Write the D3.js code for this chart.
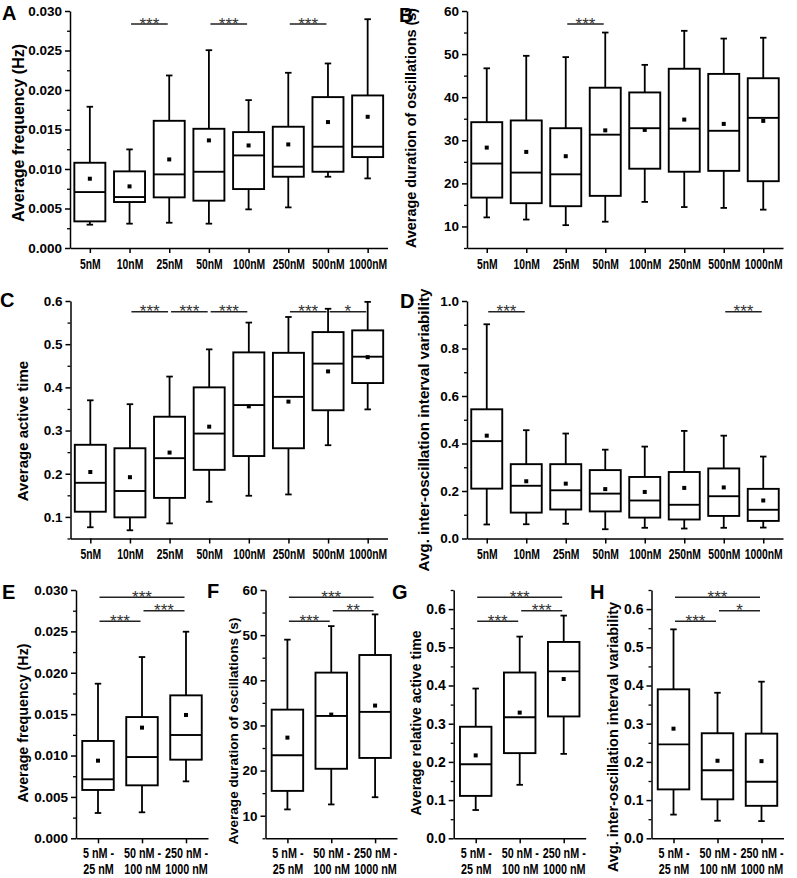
<!DOCTYPE html>
<html><head><meta charset="utf-8">
<script src="https://cdn.jsdelivr.net/npm/d3@7"></script>
<style>
html,body{margin:0;padding:0;background:#fff;}
svg text{font-family:"Liberation Sans",Arial,sans-serif;}
</style></head>
<body>
<svg id="fig" width="797" height="878"></svg>
<script>
// ---------- categories / tick labels ----------
const concCats = ["5nM","10nM","25nM","50nM","100nM","250nM","500nM","1000nM"];
const groupCats = ["g1","g2","g3"];
const groupLabels = [["5 nM -","25 nM"],["50 nM -","100 nM"],["250 nM -","1000 nM"]];

// ---------- box stats: [low whisker, Q1, median, Q3, high whisker, mean] ----------
const freqConc = [
  [0.00295,0.00337,0.00708,0.01079,0.01788,0.00877],
  [0.00308,0.00582,0.00645,0.00970,0.01248,0.00780],
  [0.00320,0.00641,0.00932,0.01610,0.02184,0.01121],
  [0.00308,0.00599,0.00965,0.01509,0.02504,0.01362],
  [0.00489,0.00746,0.01172,0.01467,0.01872,0.01298],
  [0.00514,0.00902,0.01029,0.01535,0.02218,0.01311],
  [0.00902,0.00965,0.01282,0.01910,0.02336,0.01594],
  [0.00881,0.01151,0.01282,0.01931,0.02896,0.01661]];
const durConc = [
  [12.1,16.7,24.6,34.2,46.7,28.3],
  [11.6,15.4,22.5,34.6,49.6,27.3],
  [10.3,14.7,22.1,32.8,49.3,26.3],
  [11.1,17.1,31.3,42.2,55.0,32.3],
  [15.7,23.4,32.8,41.1,47.5,32.4],
  [14.5,22.7,32.7,46.6,55.4,34.8],
  [14.3,22.9,32.2,45.4,53.6,33.8],
  [13.9,20.5,35.2,44.4,53.8,34.5]];
const activeConc = [
  [0.076,0.112,0.179,0.267,0.370,0.204],
  [0.069,0.099,0.160,0.259,0.361,0.192],
  [0.085,0.144,0.236,0.332,0.425,0.249],
  [0.135,0.209,0.293,0.400,0.488,0.309],
  [0.149,0.241,0.359,0.481,0.550,0.356],
  [0.152,0.259,0.378,0.480,0.563,0.367],
  [0.266,0.347,0.455,0.528,0.582,0.437],
  [0.349,0.410,0.471,0.532,0.598,0.470]];
const varConc = [
  [0.059,0.210,0.410,0.544,0.902,0.433],
  [0.060,0.109,0.222,0.313,0.456,0.241],
  [0.062,0.122,0.203,0.313,0.442,0.231],
  [0.039,0.114,0.189,0.288,0.374,0.208],
  [0.045,0.088,0.160,0.259,0.387,0.196],
  [0.042,0.080,0.142,0.280,0.453,0.213],
  [0.045,0.095,0.178,0.295,0.433,0.215],
  [0.046,0.074,0.121,0.209,0.345,0.160]];
const freqGroup = [
  [0.00306,0.00584,0.00713,0.01176,0.01868,0.00938],
  [0.00314,0.00640,0.00982,0.01465,0.02190,0.01337],
  [0.00688,0.00950,0.01248,0.01727,0.02496,0.01490]];
const durGroup = [
  [11.4,15.5,23.4,33.5,49.0,27.3],
  [12.5,20.4,32.1,41.7,52.0,32.4],
  [14.1,22.8,33.0,45.6,54.6,34.4]];
const activeGroup = [
  [0.074,0.111,0.194,0.292,0.392,0.217],
  [0.140,0.223,0.317,0.434,0.528,0.329],
  [0.221,0.319,0.437,0.514,0.583,0.417]];
const varGroup = [
  [0.062,0.128,0.246,0.390,0.547,0.287],
  [0.046,0.102,0.178,0.275,0.381,0.203],
  [0.045,0.085,0.148,0.274,0.410,0.202]];

// ---------- significance: [from, to, label, level] ----------
const sigA = [["10nM","25nM","***",0],["50nM","100nM","***",0],["250nM","500nM","***",0]];
const sigB = [["25nM","50nM","***",0]];
const sigC = [["10nM","25nM","***",0],["25nM","50nM","***",0],["50nM","100nM","***",0],["250nM","500nM","***",0],["500nM","1000nM","*",0]];
const sigD = [["5nM","10nM","***",0],["500nM","1000nM","***",0]];
const sigE = [["g1","g3","***",0],["g2","g3","***",1],["g1","g2","***",2]];
const sigF = [["g1","g3","***",0],["g2","g3","**",1],["g1","g2","***",2]];
const sigG = [["g1","g3","***",0],["g2","g3","***",1],["g1","g2","***",2]];
const sigH = [["g1","g3","***",0],["g2","g3","*",1],["g1","g2","***",2]];

// ---------- titles ----------
const titleFreq = "Average frequency (Hz)";
const titleDur = "Average duration of oscillations (s)";
const titleActive = "Average active time";
const titleRelActive = "Average relative active time";
const titleVar = "Avg. inter-oscillation interval variability";

const svg = d3.select("#fig");

function panel(o){
  const g = svg.append("g");
  const x = d3.scalePoint().domain(o.cats).range([o.x0,o.x1]).padding(0.5);
  const y = d3.scaleLinear().domain(o.dom).range([o.yb,o.yt]);
  const majors = d3.range(o.tStart, o.dom[1]+1e-9, o.tStep);
  const minors = d3.range(o.dom[0], o.dom[1]+1e-9, o.tStep/2).filter(v=>!majors.some(m=>Math.abs(m-v)<1e-9));

  const minAx = g.append("g").attr("transform",`translate(${o.x0},0)`)
    .call(d3.axisLeft(y).tickValues(minors).tickSize(3).tickSizeOuter(0).tickFormat(""));
  minAx.select(".domain").remove();
  minAx.selectAll("line").attr("stroke","#000").attr("stroke-width",1.3);
  const yAx = g.append("g").attr("transform",`translate(${o.x0},0)`)
    .call(d3.axisLeft(y).tickValues(majors).tickSize(5).tickSizeOuter(0).tickPadding(3).tickFormat(d3.format(o.fmt)));
  yAx.select(".domain").attr("stroke","#000").attr("stroke-width",1.5);
  yAx.selectAll("line").attr("stroke","#000").attr("stroke-width",1.5);
  yAx.selectAll("text").attr("fill","#000").attr("font-size",o.tfs).attr("font-weight","bold")
     .style("font-family","'Liberation Sans',Arial,sans-serif");

  const xAx = g.append("g").attr("transform",`translate(0,${o.yb})`)
    .call(d3.axisBottom(x).tickSize(5).tickSizeOuter(0).tickPadding(o.lines?5:6));
  xAx.select(".domain").attr("stroke","#000").attr("stroke-width",1.5);
  xAx.selectAll("line").attr("stroke","#000").attr("stroke-width",1.5);
  const xt = xAx.selectAll("text").attr("fill","#000").attr("font-weight","bold")
     .attr("font-size",o.xfs).attr("transform",`scale(${o.xsc},1)`)
     .style("font-family","'Liberation Sans',Arial,sans-serif");
  if(o.lines){
    xt.each(function(d,i){
      const t = d3.select(this); t.text(null);
      o.lines[i].forEach((s,k)=>t.append("tspan").attr("x",0).attr("dy",k===0?"0.71em":"1.1em").text(s));
    }).attr("dy",null);
  }

  const bw = o.bw, cw = 6.5;
  const b = g.append("g").selectAll("g").data(o.data).join("g")
    .attr("transform",(d,i)=>`translate(${x(o.cats[i])},0)`);
  b.append("line").attr("x1",0).attr("x2",0).attr("y1",d=>y(d[4])).attr("y2",d=>y(d[3])).attr("stroke","#000").attr("stroke-width",1.8);
  b.append("line").attr("x1",0).attr("x2",0).attr("y1",d=>y(d[1])).attr("y2",d=>y(d[0])).attr("stroke","#000").attr("stroke-width",1.8);
  b.append("line").attr("x1",-cw/2).attr("x2",cw/2).attr("y1",d=>y(d[4])).attr("y2",d=>y(d[4])).attr("stroke","#000").attr("stroke-width",1.8);
  b.append("line").attr("x1",-cw/2).attr("x2",cw/2).attr("y1",d=>y(d[0])).attr("y2",d=>y(d[0])).attr("stroke","#000").attr("stroke-width",1.8);
  b.append("rect").attr("x",-bw/2).attr("width",bw).attr("y",d=>y(d[3])).attr("height",d=>y(d[1])-y(d[3]))
    .attr("fill","#fff").attr("stroke","#000").attr("stroke-width",1.9);
  b.append("line").attr("x1",-bw/2).attr("x2",bw/2).attr("y1",d=>y(d[2])).attr("y2",d=>y(d[2])).attr("stroke","#000").attr("stroke-width",1.9);
  b.append("rect").attr("x",-2).attr("width",4).attr("y",d=>y(d[5])-2).attr("height",4).attr("fill","#000");

  const sg = g.append("g").selectAll("g").data(o.sig).join("g");
  sg.append("line").attr("x1",d=>x(d[0])+1.5).attr("x2",d=>x(d[1])-1.5)
    .attr("y1",d=>o.sigY[d[3]]).attr("y2",d=>o.sigY[d[3]]).attr("stroke","#222").attr("stroke-width",1.5);
  sg.append("text").attr("x",d=>(x(d[0])+x(d[1]))/2).attr("y",d=>o.sigY[d[3]]+5.5)
    .attr("text-anchor","middle").attr("font-size",17).attr("fill","#333").text(d=>d[2]);

  svg.append("text").attr("transform",`translate(${o.tx},${o.ty}) rotate(-90)`)
    .attr("text-anchor","middle").attr("dominant-baseline","central")
    .attr("font-weight","bold").attr("font-size",o.tsz).attr("fill","#000").text(o.title);
  svg.append("text").attr("x",o.lx).attr("y",o.ly).attr("font-weight","bold").attr("font-size",20).attr("fill","#000").text(o.letter);
}

panel({cats:concCats,data:freqConc,sig:sigA,x0:70,x1:387.5,yt:11,yb:248,dom:[0,0.030],tStart:0,tStep:0.005,fmt:".3f",
  tfs:13.5,xfs:14,xsc:0.74,bw:31,sigY:[24],title:titleFreq,tx:18,ty:133,tsz:16,letter:"A",lx:2,ly:20});
panel({cats:concCats,data:durConc,sig:sigB,x0:467,x1:783,yt:11,yb:248,dom:[5,60],tStart:10,tStep:10,fmt:"d",
  tfs:13.5,xfs:14,xsc:0.74,bw:31,sigY:[24],title:titleDur,tx:411,ty:128,tsz:14.4,letter:"B",lx:399,ly:22});
panel({cats:concCats,data:activeConc,sig:sigC,x0:70.5,x1:387.5,yt:301,yb:538.5,dom:[0.05,0.6],tStart:0.1,tStep:0.1,fmt:".1f",
  tfs:13.5,xfs:14,xsc:0.74,bw:31,sigY:[311.7],title:titleActive,tx:22,ty:431,tsz:15,letter:"C",lx:0,ly:307});
panel({cats:concCats,data:varConc,sig:sigD,x0:467,x1:783,yt:301,yb:538.5,dom:[0,1.0],tStart:0,tStep:0.2,fmt:".1f",
  tfs:13.5,xfs:14,xsc:0.74,bw:31,sigY:[311.7],title:titleVar,tx:423,ty:430,tsz:15.2,letter:"D",lx:400,ly:308});
panel({cats:groupCats,lines:groupLabels,data:freqGroup,sig:sigE,x0:76,x1:208,yt:590,yb:838.3,dom:[0,0.030],tStart:0,tStep:0.005,fmt:".3f",
  tfs:13.5,xfs:14,xsc:0.77,bw:31.5,sigY:[597.3,610.7,621.3],title:titleFreq,tx:23,ty:723,tsz:14.3,letter:"E",lx:2,ly:599});
panel({cats:groupCats,lines:groupLabels,data:durGroup,sig:sigF,x0:265.5,x1:397,yt:590,yb:838.3,dom:[5,60],tStart:10,tStep:10,fmt:"d",
  tfs:13.5,xfs:14,xsc:0.77,bw:31.5,sigY:[597.3,610.7,621.3],title:titleDur,tx:233,ty:731,tsz:13.6,letter:"F",lx:207,ly:598});
panel({cats:groupCats,lines:groupLabels,data:activeGroup,sig:sigG,x0:453.7,x1:585.7,yt:590,yb:838.3,dom:[0,0.65],tStart:0,tStep:0.1,fmt:".1f",
  tfs:14,xfs:14,xsc:0.77,bw:31.5,sigY:[597.3,610.7,621.3],title:titleRelActive,tx:416,ty:723,tsz:14.1,letter:"G",lx:392,ly:599});
panel({cats:groupCats,lines:groupLabels,data:varGroup,sig:sigH,x0:651.5,x1:783.5,yt:590,yb:838.3,dom:[0,0.65],tStart:0,tStep:0.1,fmt:".1f",
  tfs:14,xfs:14,xsc:0.77,bw:31.5,sigY:[597.3,610.7,621.3],title:titleVar,tx:613,ty:737,tsz:14.5,letter:"H",lx:590,ly:599});
</script>
</body></html>
